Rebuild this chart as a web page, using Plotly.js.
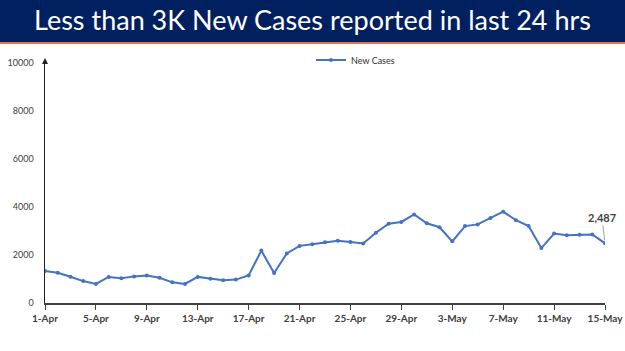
<!DOCTYPE html>
<html>
<head>
<meta charset="utf-8">
<script src="https://cdn.plot.ly/plotly-3.0.1.min.js"></script>
<style>html,body{margin:0;padding:0;background:#fff;}#chart{width:625px;height:351px;}</style>
</head>
<body>
<div id="chart"></div>
<script>
const titleText = 'Less than 3K New Cases reported in last 24 hrs';
const seriesName = 'New Cases';
const dates = ['1-Apr','2-Apr','3-Apr','4-Apr','5-Apr','6-Apr','7-Apr','8-Apr','9-Apr','10-Apr',
  '11-Apr','12-Apr','13-Apr','14-Apr','15-Apr','16-Apr','17-Apr','18-Apr','19-Apr','20-Apr',
  '21-Apr','22-Apr','23-Apr','24-Apr','25-Apr','26-Apr','27-Apr','28-Apr','29-Apr','30-Apr',
  '1-May','2-May','3-May','4-May','5-May','6-May','7-May','8-May','9-May','10-May',
  '11-May','12-May','13-May','14-May','15-May'];
const newCases = [1335,1260,1096,913,795,1086,1033,1109,1150,1054,
  861,796,1088,1007,949,975,1150,2183,1247,2067,
  2380,2451,2527,2593,2541,2483,2927,3303,3377,3688,
  3324,3157,2568,3205,3275,3545,3805,3451,3207,2288,
  2897,2827,2841,2858,2487];
const xTickLabels = ['1-Apr','5-Apr','9-Apr','13-Apr','17-Apr','21-Apr','25-Apr','29-Apr','3-May','7-May','11-May','15-May'];
const yTicks = [0,2000,4000,6000,8000,10000];
const yTickText = ['0','2000','4000','6000','8000','10000'];
const lastLabel = '2,487';

const blue = '#4472C4';
const M = {l:45, r:20, t:63, b:48};
const H = 351, plotH = H - M.t - M.b;
const py = px => 1 + (M.t - px) / plotH; // pixel from top (above plot) -> paper y

const trace = {
  x: dates, y: newCases, type: 'scatter', mode: 'lines+markers', name: seriesName,
  line: {color: blue, width: 2},
  marker: {color: blue, size: 4}
};

const layout = {
  width: 625, height: 351,
  margin: M,
  paper_bgcolor: '#fff', plot_bgcolor: '#fff',
  font: {family: 'Lato, "Liberation Sans", sans-serif', color: '#404040'},
  title: {text: titleText, font: {family: 'Lato, sans-serif', size: 27, color: '#ffffff'},
    x: 0.5, xanchor: 'center', xref: 'container', y: 1 - 21/H, yanchor: 'middle', yref: 'container'},
  showlegend: true,
  legend: {orientation: 'h', x: 0.475, xanchor: 'left', y: py(60), yanchor: 'middle',
    font: {size: 9, color: '#303030'}, bgcolor: 'rgba(0,0,0,0)', itemwidth: 30},
  xaxis: {type: 'category', range: [0, dates.length - 1], tickmode: 'array', tickvals: xTickLabels, ticktext: xTickLabels,
    showgrid: false, zeroline: false, showline: true, linecolor: '#404040', linewidth: 1.5,
    ticks: 'outside', ticklen: 5, tickcolor: '#404040',
    tickfont: {size: 10, color: '#404040', weight: 'bold'}},
  yaxis: {range: [0, 10000], tickmode: 'array', tickvals: yTicks, ticktext: yTickText, showgrid: false, zeroline: false,
    showline: true, linecolor: '#202020', linewidth: 1.5, ticks: '', ticklabelstandoff: 8,
    tickfont: {size: 9, color: '#404040'}},
  shapes: [
    {type: 'rect', xref: 'paper', yref: 'paper', x0: -0.2, x1: 1.2, y0: py(42), y1: py(-2),
      fillcolor: '#002060', line: {width: 0}, layer: 'below'},
    {type: 'line', xref: 'paper', yref: 'paper', x0: -0.2, x1: 1.2, y0: py(43), y1: py(43),
      line: {color: '#E0764E', width: 2}},
    {type: 'path', xref: 'paper', yref: 'paper', xsizemode: 'pixel', ysizemode: 'pixel',
      xanchor: 0, yanchor: 1, path: 'M-3,-1 L3,-1 L0,5 Z',
      fillcolor: '#202020', line: {width: 0}}
  ],
  annotations: [
    {x: dates[dates.length - 1], y: newCases[newCases.length - 1], text: '<b>' + lastLabel + '</b>',
      showarrow: true, arrowhead: 0, arrowwidth: 1, arrowcolor: '#a0a0a0', ax: -3, ay: -26,
      standoff: 3, font: {size: 11, color: '#404040'}}
  ]
};

Plotly.newPlot('chart', [trace], layout, {displayModeBar: false, staticPlot: true});
</script>
</body>
</html>
